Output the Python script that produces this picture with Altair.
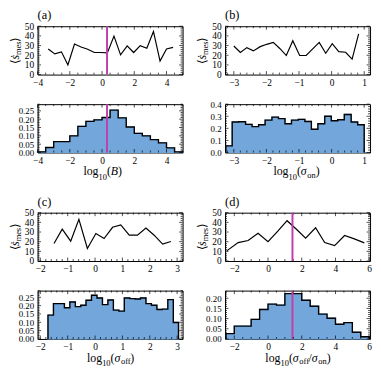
import altair as alt
import pandas as pd
import numpy as np

# ---------------- data ----------------
a_line_x = [-3.34, -2.93, -2.52, -2.12, -1.71, -1.30, -0.89, -0.48, -0.08, 0.33,
            0.74, 1.15, 1.56, 1.96, 2.37, 2.78, 3.19, 3.60, 4.00, 4.41]
a_line_y = [26.5, 21.4, 23.5, 9.9, 31.6, 28.5, 26.2, 22.8, 22.8, 22.4,
            39.8, 20.4, 29.6, 22.8, 29.9, 27.2, 44.6, 13.9, 26.5, 28.2]
a_edges = [-4.0, -3.5, -3.0, -2.5, -2.0, -1.5, -1.0, -0.5, 0.0, 0.5,
           1.0, 1.5, 2.0, 2.5, 3.0, 3.5, 4.0, 4.5, 5.0]
a_hist = [0.004, 0.030, 0.065, 0.065, 0.100, 0.157, 0.187, 0.196, 0.210,
          0.254, 0.208, 0.153, 0.115, 0.100, 0.077, 0.058, 0.028, 0.004]
a_vline = [0.31]

b_line_x = [-3.00, -2.80, -2.60, -2.40, -2.19, -1.99, -1.79, -1.59, -1.39, -1.19,
            -0.98, -0.78, -0.58, -0.38, -0.18, 0.02, 0.22, 0.43, 0.63, 0.83]
b_line_y = [29.6, 22.8, 27.9, 24.5, 28.9, 31.3, 33.3, 27.0, 19.7, 35.0,
            19.7, 19.7, 26.5, 33.3, 22.1, 32.0, 23.8, 23.1, 16.0, 42.2]
b_edges = [-3.25, -3.05, -2.85, -2.64, -2.44, -2.24, -2.04, -1.83, -1.63, -1.43, -1.23,
           -1.02, -0.82, -0.62, -0.42, -0.21, -0.01, 0.19, 0.39, 0.60, 0.80, 1.00]
b_hist = [0.055, 0.252, 0.255, 0.233, 0.214, 0.230, 0.268, 0.293, 0.280, 0.238, 0.268,
          0.274, 0.257, 0.192, 0.238, 0.300, 0.263, 0.271, 0.315, 0.252, 0.230]
b_vline = []

c_line_x = [-1.50, -1.20, -0.89, -0.59, -0.28, 0.03, 0.33, 0.64, 0.94, 1.25,
            1.55, 1.86, 2.16, 2.47, 2.77]
c_line_y = [18.2, 32.9, 20.5, 43.2, 13.0, 28.4, 23.3, 34.9, 37.3, 26.7,
            26.7, 34.2, 26.7, 17.5, 20.2]
c_edges = [-1.72, -1.52, -1.32, -1.12, -0.92, -0.72, -0.52, -0.33, -0.13, 0.07, 0.27, 0.47,
           0.67, 0.87, 1.07, 1.27, 1.46, 1.66, 1.86, 2.06, 2.26, 2.46, 2.66, 2.86, 3.05]
c_hist = [0.143, 0.212, 0.212, 0.187, 0.222, 0.194, 0.202, 0.232, 0.262, 0.246, 0.206, 0.234,
          0.173, 0.167, 0.246, 0.242, 0.240, 0.246, 0.212, 0.202, 0.177, 0.179, 0.236, 0.099]
c_vline = []

d_line_x = [-2.45, -1.77, -1.18, -0.59, 0.00, 0.58, 1.13, 1.70, 2.23, 2.82,
            3.36, 3.95, 4.54, 5.12, 5.71]
d_line_y = [10.5, 19.1, 21.2, 28.8, 20.1, 30.9, 41.7, 32.6, 23.6, 34.4,
            19.1, 16.0, 26.4, 22.9, 18.8]
d_edges = [-2.5, -2.0, -1.5, -1.0, -0.5, 0.0, 0.5, 1.0, 1.5, 2.0, 2.5, 3.0,
           3.5, 4.0, 4.5, 5.0, 5.5, 6.0]
d_hist = [0.026, 0.063, 0.063, 0.096, 0.145, 0.171, 0.166, 0.223, 0.223,
          0.190, 0.161, 0.122, 0.102, 0.072, 0.080, 0.033, 0.011]
d_vline = [1.45]

# tick labels
a_xticks = [-4, -2, 0, 2, 4]
b_xticks = [-3, -2, -1, 0, 1]
c_xticks = [-2, -1, 0, 1, 2, 3]
d_xticks = [-2, 0, 2, 4, 6]
line_yticks = [0, 10, 20, 30, 40, 50]
hist_yticks_a = [0.00, 0.05, 0.10, 0.15, 0.20, 0.25]
hist_yticks_b = [0.0, 0.1, 0.2, 0.3, 0.4]
hist_yticks_d = [0.00, 0.05, 0.10, 0.15, 0.20]

panel_labels = ["(a)", "(b)", "(c)", "(d)"]

# ---------------- style ----------------
W, H = 147, 49
FONT = "Liberation Serif"
FILL = "#73a7db"
MAGENTA = "#bf3fab"
CW = {'l': 0.278, 'o': 0.5, 'g': 0.5, '(': 0.333, ')': 0.333, 'B': 0.611,
      'σ': 0.55, '/': 0.278, 'n': 0.5, 'f': 0.3, '1': 0.5, '0': 0.5,
      'm': 0.722, 'e': 0.444, 's': 0.389, 'ṡ': 0.389, '⟨': 0.38, '⟩': 0.38}


def tw(s, size):
    return sum(CW.get(c, 0.5) for c in s) * size


def one():
    return pd.DataFrame({"d": [0]})


def text_piece(t, size, x, y, italic, angle):
    return alt.Chart(one()).mark_text(
        text=t, font=FONT, fontSize=size, fontStyle="italic" if italic else "normal",
        align="left", baseline="alphabetic", angle=angle, color="black"
    ).encode(x=alt.value(x), y=alt.value(y))


def rich_h(pieces, cx, by):
    total = sum(tw(t, s) for t, s, sh, it in pieces)
    pos = cx - total / 2
    out = []
    for t, s, sh, it in pieces:
        out.append(text_piece(t, s, pos, by + sh, it, 0))
        pos += tw(t, s)
    return out


def rich_v(pieces, cy, bx):
    total = sum(tw(t, s) for t, s, sh, it in pieces)
    pos = cy + total / 2
    out = []
    for t, s, sh, it in pieces:
        out.append(text_piece(t, s, bx + sh, pos, it, 270))
        pos -= tw(t, s)
    return out


def minors(dom, step, majstep):
    start = np.ceil(dom[0] / step - 1e-9) * step
    vals = np.arange(start, dom[1] + 1e-9, step)
    return [round(float(v), 6) for v in vals
            if abs(v / majstep - round(v / majstep)) > 1e-6]


def xenc(dom, vals):
    return alt.X("x:Q", scale=alt.Scale(domain=dom, nice=False, zero=False),
                 axis=alt.Axis(values=vals, format="d", title=None, ticks=False, tickSize=0,
                               domain=False, grid=False, labelFlush=False,
                               labelOverlap=False, labelPadding=3, labelFontSize=9.5))


def yenc(dom, vals, fmt, size):
    return alt.Y("y:Q", scale=alt.Scale(domain=dom, nice=False, zero=False),
                 axis=alt.Axis(values=vals, format=fmt, title=None, ticks=False, tickSize=0,
                               domain=False, grid=False, labelFlush=False,
                               labelOverlap=False, labelPadding=4, labelFontSize=size))


def tick_layers(xe, ye, xdom, xmaj, xminstep, xmajstep, ydom, ymaj, yminstep, ymajstep):
    L = []
    xmaj_in = [v for v in xmaj if xdom[0] - 1e-9 <= v <= xdom[1] + 1e-9]
    for vals, size in [(xmaj_in, 3.5), (minors(xdom, xminstep, xmajstep), 2)]:
        base = alt.Chart(pd.DataFrame({"x": vals})).mark_rule(color="black", strokeWidth=0.7)
        L.append(base.encode(x=xe, y=alt.value(H), y2=alt.value(H - size)))
        L.append(base.encode(x=xe, y=alt.value(0), y2=alt.value(size)))
    for vals, size in [(ymaj, 3.5), (minors(ydom, yminstep, ymajstep), 2)]:
        base = alt.Chart(pd.DataFrame({"y": vals})).mark_rule(color="black", strokeWidth=0.7)
        L.append(base.encode(y=ye, x=alt.value(0), x2=alt.value(size)))
        L.append(base.encode(y=ye, x=alt.value(W), x2=alt.value(W - size)))
    return L


def panel(label, lx, ly, edges, hist, vline, xdom, xmaj, xminstep, xmajstep,
          hdom, hticks, hfmt, hminstep, hmajstep, title_pieces, title_cx):
    # --- top line plot ---
    xe = xenc(xdom, xmaj)
    ye = yenc([0, 50], line_yticks, "d", 9.5)
    top_layers = tick_layers(xe, ye, xdom, xmaj, xminstep, xmajstep, [0, 50], line_yticks, 2, 10)
    top_layers.append(alt.Chart(pd.DataFrame({"x": lx, "y": ly})).mark_line(
        color="black", strokeWidth=1.2).encode(x=xe, y=ye))
    if vline:
        top_layers.append(alt.Chart(pd.DataFrame({"x": vline})).mark_rule(
            color=MAGENTA, strokeWidth=2).encode(x=xe))
    top_layers.append(alt.Chart(one()).mark_text(
        text=label, font=FONT, fontSize=12.5, align="left", baseline="alphabetic",
        color="black").encode(x=alt.value(0), y=alt.value(-7)))
    top_layers += rich_v([("⟨", 12, 0, False), ("ṡ", 12, 0, True),
                          ("mes", 8.5, 2, False), ("⟩", 12, 0, False)], 24.8, -19)
    top = alt.layer(*top_layers).properties(width=W, height=H)

    # --- bottom histogram ---
    xe2 = xenc(xdom, xmaj)
    ye2 = yenc(hdom, hticks, hfmt, 9)
    bars = pd.DataFrame({"x": edges[:-1], "x2": edges[1:], "y": hist})
    area = pd.DataFrame({"x": list(edges), "y": list(hist) + [hist[-1]]})
    sx = [edges[0]] + list(edges[:-1]) + [edges[-1]]
    sy = [0.0] + list(hist) + [0.0]
    steps = pd.DataFrame({"x": sx, "y": sy, "i": list(range(len(sx)))})
    bot_layers = [
        alt.Chart(bars).mark_rect(fill=FILL, stroke=FILL, strokeWidth=1.2,
                                  opacity=1).encode(
            x=xe2, x2="x2:Q", y=ye2, y2=alt.datum(0)),
        alt.Chart(area).mark_area(fill=FILL, opacity=1, interpolate="step-after").encode(
            x=xe2, y=ye2, y2=alt.datum(0)),
        alt.Chart(steps).mark_line(color="black", strokeWidth=1.4,
                                   interpolate="step-after").encode(
            x=xe2, y=ye2, order="i:Q"),
    ]
    if vline:
        bot_layers.append(alt.Chart(pd.DataFrame({"x": vline})).mark_rule(
            color=MAGENTA, strokeWidth=2).encode(x=xe2))
    bot_layers += tick_layers(xe2, ye2, xdom, xmaj, xminstep, xmajstep,
                              hdom, hticks, hminstep, hmajstep)
    bot_layers += rich_h(title_pieces, title_cx, 72)
    bottom = alt.layer(*bot_layers).properties(width=W, height=H)
    return top, bottom


def spacer():
    return alt.Chart(one()).mark_point(opacity=0).encode(
        x=alt.value(0), y=alt.value(0)
    ).properties(width=W, height=1, view={"strokeOpacity": 0})


LOG = [("log", 12, 0, False), ("10", 8.5, 4.5, False)]
a_top, a_bot = panel(panel_labels[0], a_line_x, a_line_y, a_edges, a_hist, a_vline,
                     [-4, 5], a_xticks, 0.5, 2, [0, 0.29], hist_yticks_a, ".2f", 0.01, 0.05,
                     LOG + [("(", 12, 0, False), ("B", 12, 0, True), (")", 12, 0, False)], 66)
b_top, b_bot = panel(panel_labels[1], b_line_x, b_line_y, b_edges, b_hist, b_vline,
                     [-3.27, 1.18], b_xticks, 0.2, 1, [0, 0.4], hist_yticks_b, ".1f", 0.02, 0.1,
                     LOG + [("(", 12, 0, False), ("σ", 12, 0, True), ("on", 8.5, 2.5, False),
                            (")", 12, 0, False)], 72.5)
c_top, c_bot = panel(panel_labels[2], c_line_x, c_line_y, c_edges, c_hist, c_vline,
                     [-2.1, 3.2], c_xticks, 0.2, 1, [0, 0.29], hist_yticks_a, ".2f", 0.01, 0.05,
                     LOG + [("(", 12, 0, False), ("σ", 12, 0, True), ("off", 8.5, 2.5, False),
                            (")", 12, 0, False)], 74)
d_top, d_bot = panel(panel_labels[3], d_line_x, d_line_y, d_edges, d_hist, d_vline,
                     [-2.55, 6.05], d_xticks, 0.5, 2, [0, 0.2375], hist_yticks_d, ".2f", 0.01, 0.05,
                     LOG + [("(", 12, 0, False), ("σ", 12, 0, True), ("off", 8.5, 2.5, False),
                            ("/", 12, 0, False), ("σ", 12, 0, True), ("on", 8.5, 2.5, False),
                            (")", 12, 0, False)], 74)

chart = alt.concat(
    a_top, b_top, a_bot, b_bot, spacer(), spacer(), c_top, d_top, c_bot, d_bot,
    columns=2, spacing=alt.RowColnumber(row=30, column=43), bounds="flush"
).properties(
    padding={"left": 0, "top": -2, "right": 0, "bottom": 0}, background="white"
).configure_view(stroke="black", strokeWidth=1).configure_axis(
    labelFont=FONT, labelColor="black"
)

chart.save("out.html", embed_options={"renderer": "svg", "actions": False})
